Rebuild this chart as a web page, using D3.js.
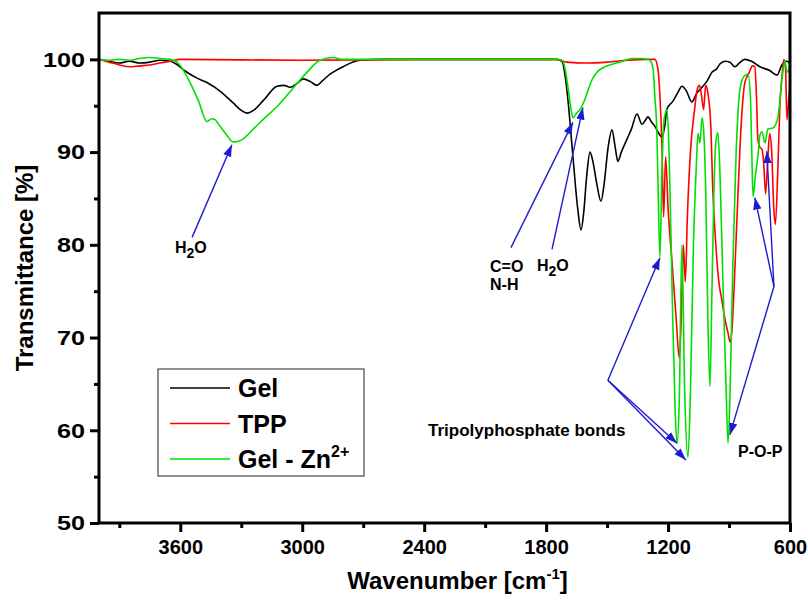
<!DOCTYPE html>
<html lang="en">
<head>
    <meta charset="UTF-8">
    <title>FTIR Spectra</title>
    <style>
        body { margin: 0; background: #fff; overflow: hidden; }
        svg { display: block; }
        text { font-family: Arial, 'Liberation Sans', sans-serif; font-weight: bold; }
        .tick text { font-size: 20px; fill: #000; }
        .tick line { stroke: #000; stroke-width: 3; }
        .domain { display: none; }
        .axis-label { font-size: 24px; fill: #000; }
        .note { font-size: 16px; fill: #000; }
        .legend-text { font-size: 25px; fill: #000; }
    </style>
</head>
<body>
<svg width="808" height="602"></svg>
<script src="https://d3js.org/d3.v7.min.js"></script>
<script>

    // Gel spectrum: [wavenumber cm-1, transmittance %]
    const gel = [
        [4000, 100], [3950, 99.8], [3900, 99.6], [3850, 99.8], [3800, 99.6], [3750, 99.7],
        [3700, 99.9], [3650, 99.8], [3620, 99.5], [3580, 98.8], [3520, 98.0], [3469, 97.5],
        [3400, 96.5], [3340, 95.3], [3300, 94.5], [3272, 94.2], [3240, 94.5], [3190, 95.6],
        [3124, 97.1], [3090, 97.2], [3060, 97.0], [3020, 97.5], [2996, 97.9], [2960, 97.6],
        [2927, 97.2], [2900, 97.7], [2863, 98.4], [2800, 99.2], [2716, 99.9], [2600, 100],
        [2200, 100], [1750, 100], [1722, 99.8], [1705, 98.0], [1693, 95.7], [1668, 89.5],
        [1645, 84.0], [1628, 81.6], [1615, 83.5], [1600, 87.5], [1584, 90.0], [1570, 89.0],
        [1550, 86.5], [1530, 84.7], [1515, 86.5], [1495, 90.5], [1476, 92.4], [1460, 90.5],
        [1447, 89.0], [1430, 90.0], [1402, 91.4], [1380, 92.5], [1353, 94.1], [1328, 93.0],
        [1310, 93.5], [1299, 93.8], [1280, 93.2], [1265, 92.8], [1245, 92.0], [1230, 91.6],
        [1215, 93.0], [1206, 94.6], [1176, 95.5], [1150, 96.5], [1132, 97.1], [1110, 96.6],
        [1083, 95.4], [1060, 96.3], [1033, 97.0], [1010, 97.6], [984, 98.6], [960, 99.0],
        [945, 99.5], [920, 99.8], [896, 99.7], [871, 99.2], [850, 99.6], [822, 100],
        [790, 99.8], [748, 99.2], [700, 98.8], [664, 98.3], [640, 99.4], [615, 99.8], [600, 99.5]
    ];

    // TPP spectrum
    const tpp = [
        [4000, 100], [3950, 99.7], [3900, 99.4], [3850, 99.2], [3800, 99.3], [3750, 99.4],
        [3700, 99.6], [3650, 99.8], [3600, 100], [3000, 99.9], [2400, 100], [1750, 100],
        [1700, 99.7], [1600, 99.6], [1500, 99.7], [1400, 99.9], [1300, 100], [1265, 100],
        [1250, 99.0], [1240, 96], [1230, 90.6], [1222, 83.0], [1212, 89.5], [1200, 84],
        [1180, 78], [1160, 72], [1145, 67.8], [1135, 72], [1125, 80], [1115, 76],
        [1105, 83], [1090, 90], [1070, 94.5], [1056, 96.8], [1045, 97.2], [1035, 96],
        [1025, 94.6], [1015, 97.2], [1005, 96.5], [990, 93], [980, 86], [965, 80],
        [950, 76], [935, 74], [920, 72], [905, 70.5], [895, 69.5], [885, 71],
        [870, 78], [855, 86], [840, 93], [822, 97.5], [800, 98.6], [785, 99.3],
        [773, 99.2], [765, 96], [758, 91.4], [748, 90.5], [738, 90.3], [730, 89],
        [720, 85.5], [710, 89], [700, 92], [690, 90], [680, 84], [672, 82.2],
        [660, 88], [650, 94.9], [640, 98], [630, 100], [622, 99], [615, 93.5],
        [605, 96], [600, 97]
    ];

    // Gel - Zn2+ spectrum
    const gelZn = [
        [4000, 100], [3950, 99.9], [3900, 100], [3850, 99.9], [3800, 100.1], [3750, 100.2],
        [3700, 100.1], [3650, 100], [3616, 99.7], [3590, 99.0], [3552, 97.5], [3510, 95.5],
        [3469, 93.3], [3445, 93.6], [3429, 93.5], [3405, 92.8], [3370, 91.8], [3341, 91.1],
        [3310, 91.2], [3292, 91.4], [3240, 92.5], [3193, 93.5], [3120, 95.0], [3060, 96.5],
        [3010, 97.8], [2977, 98.6], [2913, 99.9], [2849, 100.2], [2800, 100], [2200, 100],
        [1750, 100], [1722, 99.9], [1705, 98.8], [1693, 97.1], [1680, 95.0], [1668, 93.7],
        [1650, 94.2], [1633, 94.6], [1609, 95.7], [1590, 96.9], [1574, 97.8], [1550, 98.6],
        [1520, 99.1], [1470, 99.5], [1422, 99.8], [1380, 100.1], [1330, 100.1], [1300, 100],
        [1289, 99.9], [1274, 99.0], [1265, 96], [1255, 92.1], [1248, 85], [1240, 78.7],
        [1230, 88], [1220, 93.5], [1205, 94.6], [1195, 90], [1180, 75], [1165, 62],
        [1156, 58.6], [1145, 63], [1132, 80], [1118, 64], [1102, 57.1], [1090, 64],
        [1075, 80], [1060, 89], [1053, 92], [1043, 91], [1033, 93.7], [1024, 92],
        [1014, 85], [1004, 72], [994, 64.7], [984, 75], [974, 86], [965, 91],
        [955, 92.1], [945, 88], [930, 76], [915, 65], [905, 58.6], [895, 64],
        [881, 78], [865, 90], [846, 96.8], [825, 98.2], [807, 98.4], [795, 96],
        [788, 90], [782, 85.2], [770, 87.5], [758, 89.5], [748, 91.8], [738, 92.2],
        [723, 91], [709, 92.5], [684, 92.6], [659, 93.8], [640, 97.8], [625, 99.8],
        [615, 98.6], [605, 99], [600, 99.5]
    ];

    const xMajorTicks = [3600, 3000, 2400, 1800, 1200, 600];
    const xMinorTicks = [3900, 3300, 2700, 2100, 1500, 900];
    const yMajorTicks = [50, 60, 70, 80, 90, 100];
    const yMinorTicks = [55, 65, 75, 85, 95];

    const seriesNames = ['Gel', 'TPP', 'Gel - Zn'];
    const seriesColors = ['#000000', '#ff0000', '#00e000'];

    // Arrows in data units: from [wn, T] to [wn, T]
    const arrows = [
        [[3542, 80.8], [3346, 90.8]],
        [[1973, 79.7], [1668, 93.2]],
        [[1771, 79.5], [1619, 94.8]],
        [[1496, 65.4], [1240, 78.6]],
        [[1496, 65.4], [1156, 58.6]],
        [[1496, 65.4], [1112, 56.8]],
        [[679, 75.5], [896, 59.5]],
        [[679, 75.5], [773, 85.1]],
        [[679, 75.5], [714, 90.1]]
    ];

    const margin = { left: 99, right: 18, top: 13, bottom: 79 };

    const svg = d3.select('svg');
    const width = +svg.attr('width');
    const height = +svg.attr('height');
    const innerWidth = width - margin.left - margin.right;
    const innerHeight = height - margin.top - margin.bottom;

    const xScale = d3.scaleLinear().domain([4000, 600]).range([0, innerWidth]);
    const yScale = d3.scaleLinear().domain([50, 105]).range([innerHeight, 0]);

    const group = svg.append('g')
        .attr('transform', 'translate(' + margin.left + ' ' + margin.top + ')');

    // axes (ticks only, frame drawn separately)
    group.append('g')
        .attr('transform', 'translate(0 ' + innerHeight + ')')
        .call(d3.axisBottom(xScale).tickValues(xMajorTicks).tickSize(9).tickPadding(8)
            .tickFormat(d3.format('d')));

    group.append('g')
        .attr('transform', 'translate(0 ' + innerHeight + ')')
        .call(d3.axisBottom(xScale).tickValues(xMinorTicks).tickSize(5).tickFormat(''))
        .selectAll('.tick text').remove();

    // y labels are drawn a little wider, as in the original
    const yLabelStretch = 1.2;
    group.append('g')
        .call(d3.axisLeft(yScale).tickValues(yMajorTicks).tickSize(9).tickPadding(5)
            .tickFormat(d3.format('d')))
        .selectAll('.tick text')
        .style('font-size', '21px')
        .attr('x', -14 / yLabelStretch)
        .attr('transform', 'scale(' + yLabelStretch + ' 1)');

    group.append('g')
        .call(d3.axisLeft(yScale).tickValues(yMinorTicks).tickSize(5).tickFormat(''))
        .selectAll('.tick text').remove();

    // clip for spectra
    const defs = svg.append('defs');
    defs.append('clipPath').attr('id', 'clip')
        .append('rect').attr('width', innerWidth).attr('height', innerHeight);

    const line = d3.line()
        .x(function (d) { return xScale(d[0]); })
        .y(function (d) { return yScale(d[1]); })
        .curve(d3.curveMonotoneX);

    const plot = group.append('g').attr('clip-path', 'url(#clip)');

    // black, red, then green on top
    [gel, tpp, gelZn].forEach(function (data, i) {
        plot.append('path')
            .attr('fill', 'none')
            .attr('stroke', seriesColors[i])
            .attr('stroke-width', 1.6)
            .attr('stroke-linejoin', 'round')
            .attr('d', line(data));
    });

    // frame
    group.append('rect')
        .attr('width', innerWidth)
        .attr('height', innerHeight)
        .attr('fill', 'none')
        .attr('stroke', '#000')
        .attr('stroke-width', 3);

    // arrows
    defs.append('marker')
        .attr('id', 'head')
        .attr('viewBox', '0 0 10 10')
        .attr('refX', 10).attr('refY', 5)
        .attr('markerWidth', 12).attr('markerHeight', 12)
        .attr('markerUnits', 'userSpaceOnUse')
        .attr('orient', 'auto')
        .append('path').attr('d', 'M0,1.5 L10,5 L0,8.5 Z').attr('fill', '#1c1ccf');

    group.selectAll('.arrow').data(arrows).enter().append('line')
        .attr('class', 'arrow')
        .attr('x1', function (d) { return xScale(d[0][0]); })
        .attr('y1', function (d) { return yScale(d[0][1]); })
        .attr('x2', function (d) { return xScale(d[1][0]); })
        .attr('y2', function (d) { return yScale(d[1][1]); })
        .attr('stroke', '#1c1ccf')
        .attr('stroke-width', 1.4)
        .attr('marker-end', 'url(#head)');

    // annotation labels
    function h2o(wn, t) {
        const txt = group.append('text').attr('class', 'note')
            .attr('x', xScale(wn)).attr('y', yScale(t));
        txt.append('tspan').text('H');
        txt.append('tspan').text('2').attr('dy', 5).style('font-size', '14px');
        txt.append('tspan').text('O').attr('dy', -5);
    }
    h2o(3626, 79.1);
    h2o(1845, 77.2);

    group.append('text').attr('class', 'note')
        .attr('x', xScale(2076)).attr('y', yScale(77.1)).text('C=O');
    group.append('text').attr('class', 'note')
        .attr('x', xScale(2076)).attr('y', yScale(75.1)).text('N-H');
    group.append('text').attr('class', 'note')
        .attr('x', xScale(2381)).attr('y', yScale(59.4)).style('font-size', '17px')
        .text('Tripolyphosphate bonds');
    group.append('text').attr('class', 'note')
        .attr('x', xScale(856)).attr('y', yScale(57.1)).text('P-O-P');

    // axis titles
    group.append('text').attr('class', 'axis-label')
        .attr('transform', 'translate(' + (-66) + ' ' + (innerHeight / 2) + ') rotate(-90)')
        .style('text-anchor', 'middle')
        .text('Transmittance [%]');

    const xt = group.append('text').attr('class', 'axis-label')
        .attr('x', innerWidth / 2 + 13)
        .attr('y', innerHeight + 66)
        .style('text-anchor', 'middle');
    xt.append('tspan').text('Wavenumber [cm');
    xt.append('tspan').text('-1').attr('dy', -10).style('font-size', '15px');
    xt.append('tspan').text(']').attr('dy', 10);

    // legend
    const legend = svg.append('g').attr('transform', 'translate(158 369)');
    legend.append('rect')
        .attr('width', 206).attr('height', 107)
        .attr('fill', '#fff').attr('stroke', '#222').attr('stroke-width', 1);

    seriesNames.forEach(function (name, i) {
        const yy = 19 + i * 35.5;
        legend.append('line')
            .attr('x1', 12).attr('x2', 72).attr('y1', yy).attr('y2', yy)
            .attr('stroke', seriesColors[i]).attr('stroke-width', 1.6);
        const t = legend.append('text').attr('class', 'legend-text')
            .attr('x', 80).attr('y', yy + 9).text(name);
        if (i === 2) {
            t.append('tspan').text('2+').attr('dy', -11).style('font-size', '16px');
        }
    });

</script>
</body>
</html>
